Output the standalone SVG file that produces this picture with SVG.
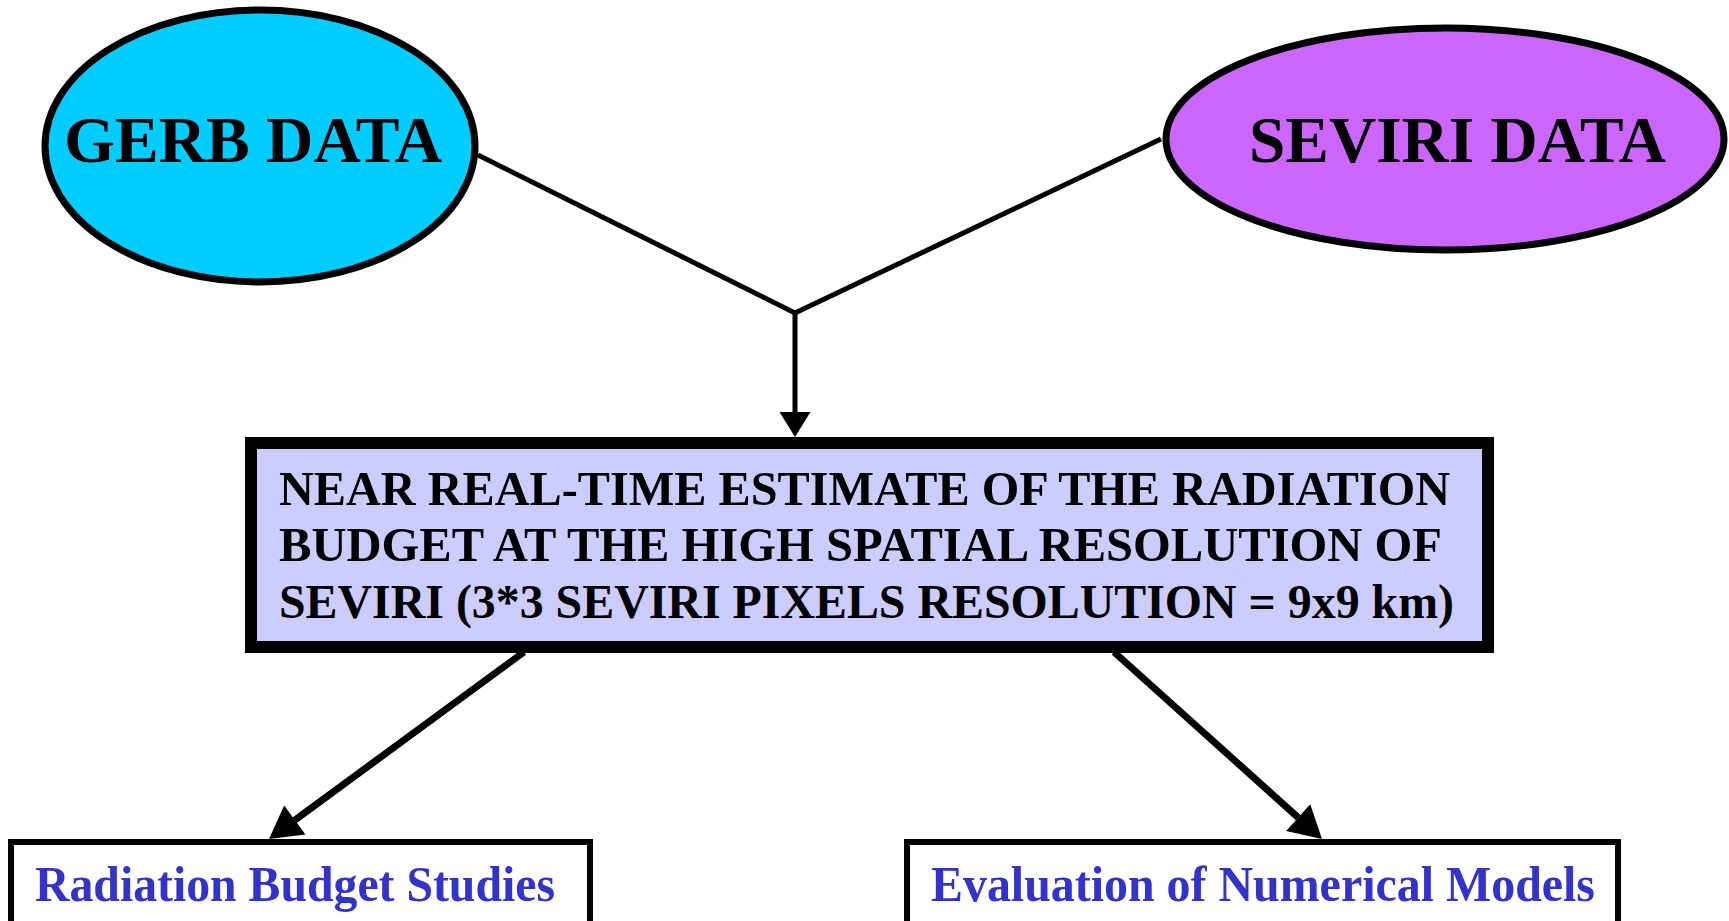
<svg xmlns="http://www.w3.org/2000/svg" width="1729" height="921" viewBox="0 0 1729 921">
<style>
.src{stroke:#000;stroke-width:7}
.t{font-family:"Liberation Serif","Times New Roman",serif;font-weight:bold}
.big{font-size:66px;fill:#000}
.mid{font-size:48px;fill:#000}
.out{font-size:50px;fill:#3333CC}
.conn{fill:none;stroke:#000;stroke-linecap:butt}
</style>
<defs>
<marker id="ah1" markerUnits="userSpaceOnUse" markerWidth="25" markerHeight="31" refX="0" refY="15.5" orient="auto" overflow="visible">
<path d="M0,0 L25,15.5 L0,31 z" fill="#000"/>
</marker>
<marker id="ah2" markerUnits="userSpaceOnUse" markerWidth="32" markerHeight="36" refX="0" refY="18" orient="auto" overflow="visible">
<path d="M0,0 L32,18 L0,36 z" fill="#000"/>
</marker>
</defs>
<rect width="1729" height="921" fill="#fff"/>
<g id="connectors">
<path class="conn" d="M478,155 L795,313 L1161,139" stroke-width="5" stroke-linejoin="miter"/>
<line class="conn" x1="795" y1="313" x2="795" y2="412" stroke-width="5" marker-end="url(#ah1)"/>
<line class="conn" x1="524" y1="652" x2="294.8" y2="820.1" stroke-width="7" marker-end="url(#ah2)"/>
<line class="conn" x1="1114" y1="652" x2="1298.2" y2="817.6" stroke-width="7" marker-end="url(#ah2)"/>
</g>
<g id="gerb">
<ellipse class="src" cx="260" cy="146" rx="215" ry="136" fill="#00CCFF"/>
<text class="t big" x="64" y="162" textLength="378" lengthAdjust="spacingAndGlyphs">GERB DATA</text>
</g>
<g id="seviri">
<ellipse class="src" cx="1445" cy="139" rx="279" ry="111" fill="#CC66FF"/>
<text class="t big" x="1249" y="162" textLength="417" lengthAdjust="spacingAndGlyphs">SEVIRI DATA</text>
</g>
<g id="estimate">
<rect x="251" y="443" width="1237" height="204" fill="#CCCCFF" stroke="#000" stroke-width="12"/>
<text class="t mid" x="279" y="505" textLength="1171" lengthAdjust="spacingAndGlyphs">NEAR REAL-TIME ESTIMATE OF THE RADIATION</text>
<text class="t mid" x="279" y="561" textLength="1163" lengthAdjust="spacingAndGlyphs">BUDGET AT THE HIGH SPATIAL RESOLUTION OF</text>
<text class="t mid" x="279" y="618" textLength="1175" lengthAdjust="spacingAndGlyphs">SEVIRI (3*3 SEVIRI PIXELS RESOLUTION = 9x9 km)</text>
</g>
<g id="radiation">
<rect x="11" y="842" width="579" height="200" fill="#fff" stroke="#000" stroke-width="6"/>
<text class="t out" x="35" y="901" textLength="520" lengthAdjust="spacingAndGlyphs">Radiation Budget Studies</text>
</g>
<g id="evaluation">
<rect x="907" y="842" width="711" height="200" fill="#fff" stroke="#000" stroke-width="6"/>
<text class="t out" x="931" y="901" textLength="664" lengthAdjust="spacingAndGlyphs">Evaluation of Numerical Models</text>
</g>
</svg>
